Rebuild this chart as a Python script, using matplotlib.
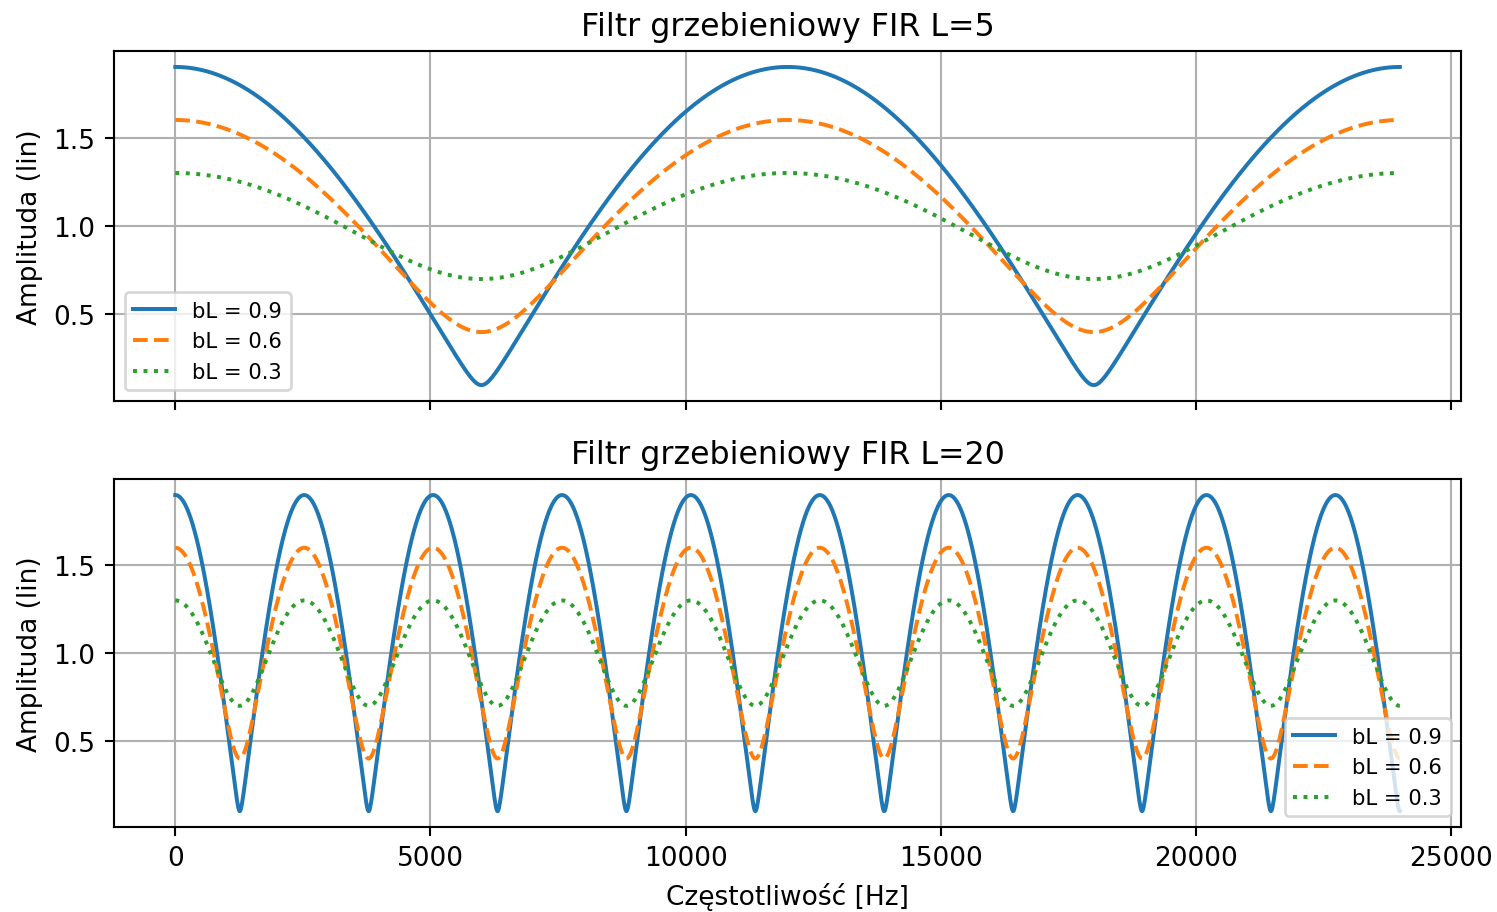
import numpy as np
import matplotlib
matplotlib.use("Agg")
import matplotlib.pyplot as plt

# Comb filter parameters
fs = 48000                     # sampling rate [Hz]
delays = [5, 20]               # filter length L
gains = [0.9, 0.6, 0.3]        # bL coefficients
styles = ["-", "--", ":"]
legend_locs = ["lower left", "lower right"]

freqs = np.linspace(0, fs / 2, 4000)

DPI = 190
fig = plt.figure(figsize=(1497 / DPI, 913 / DPI), dpi=DPI)
ax_top = fig.add_axes([0.0762, 0.5597, 0.8998, 0.3833])
ax_bot = fig.add_axes([0.0762, 0.0931, 0.8998, 0.3809], sharex=ax_top)

for ax, L, loc in zip([ax_top, ax_bot], delays, legend_locs):
    w = 2 * np.pi * freqs / fs
    for b, ls in zip(gains, styles):
        # y[n] = x[n] + bL * x[n - (L-1)]
        H = np.abs(1 + b * np.exp(-1j * w * (L - 1)))
        ax.plot(freqs, H, ls, label=f"bL = {b}")
    ax.set_title(f"Filtr grzebieniowy FIR L={L}", fontsize=12)
    ax.set_ylabel("Amplituda (lin)", fontsize=10)
    ax.grid(True)
    ax.legend(loc=loc, fontsize=8)
    ax.tick_params(labelsize=10)

plt.setp(ax_top.get_xticklabels(), visible=False)
ax_bot.set_xlabel("Częstotliwość [Hz]", fontsize=10)

fig.savefig("out.png", dpi=DPI)
